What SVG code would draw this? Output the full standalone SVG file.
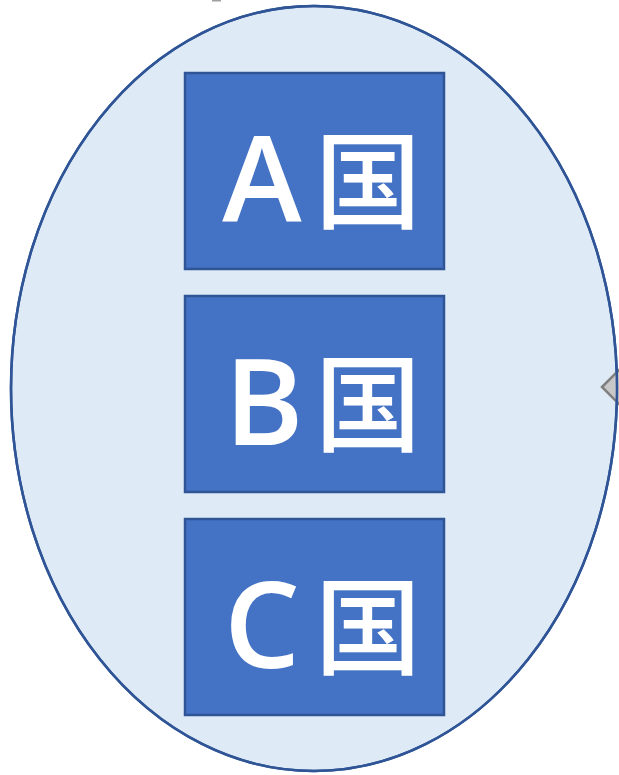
<svg xmlns="http://www.w3.org/2000/svg" width="619" height="775" viewBox="0 0 619 775">
<style>
.box{fill:#4472C4;stroke:#2F5597;stroke-width:2.5}
.lbl{fill:#FFFFFF;text-anchor:middle}
.lat{font-family:"Open Sans","Liberation Sans",sans-serif;font-size:120px;font-weight:600}
.cjk{font-family:"Noto Sans CJK JP","Noto Sans CJK SC",sans-serif;font-size:106px;font-weight:500}
</style>
<rect x="212" y="0" width="9" height="1.5" fill="#A0A0A0"/>
<g id="group">
<ellipse cx="314" cy="388.5" rx="303" ry="382.5" fill="#DEEBF7" stroke="#2F5597" stroke-width="2.5"/>
</g>
<g id="connectors">
<polygon points="602,387 620,369 638,387 620,405" fill="#C8C8C8" stroke="#808080" stroke-width="2.5"/>
</g>
<ellipse cx="314" cy="388.5" rx="303" ry="382.5" fill="none" stroke="#2F5597" stroke-width="2.5"/>
<g id="nodeA">
<rect class="box" x="185" y="73" width="259" height="196"/>
<text class="lbl" y="222"><tspan class="lat" x="262">A</tspan><tspan class="cjk" x="368" y="220">国</tspan></text>
</g>
<g id="nodeB">
<rect class="box" x="185" y="296" width="259" height="196"/>
<text class="lbl" y="445"><tspan class="lat" x="264">B</tspan><tspan class="cjk" x="368" y="443">国</tspan></text>
</g>
<g id="nodeC">
<rect class="box" x="185" y="519" width="259" height="196"/>
<text class="lbl" y="668"><tspan class="lat" x="262">C</tspan><tspan class="cjk" x="368" y="666">国</tspan></text>
</g>
</svg>
